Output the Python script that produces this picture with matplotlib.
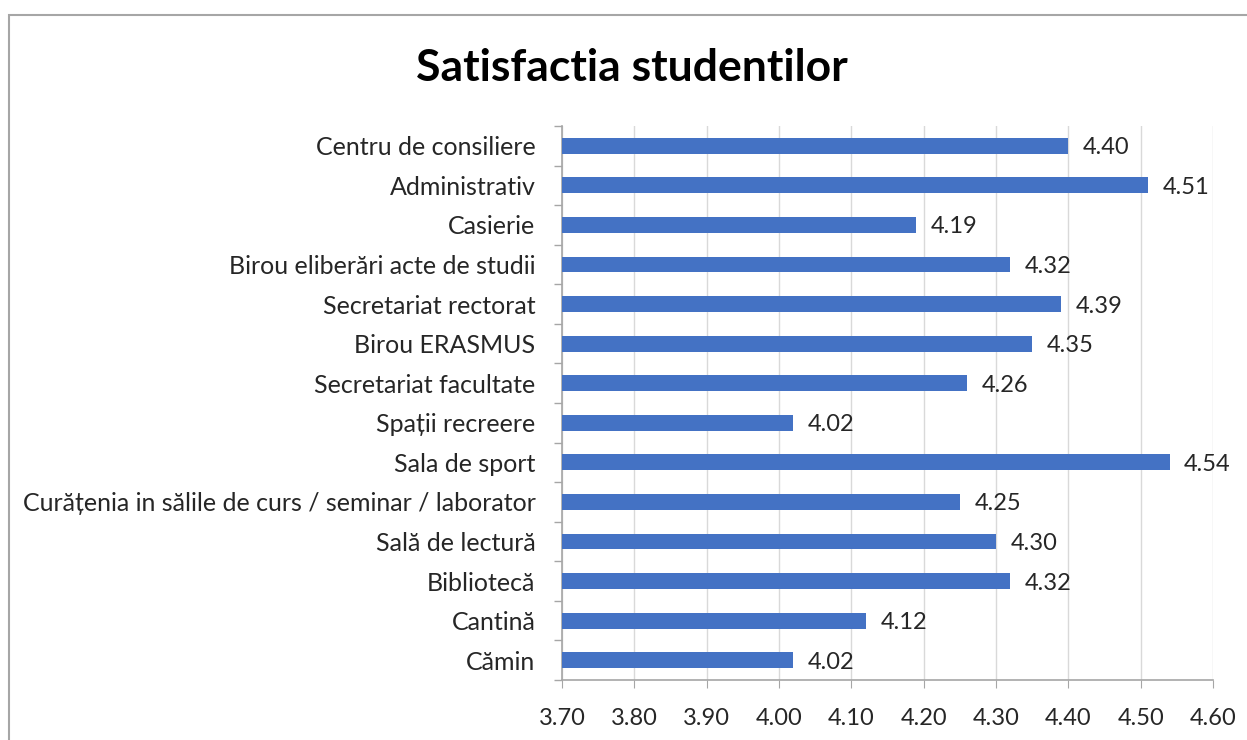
import matplotlib.pyplot as plt
from matplotlib.patches import Rectangle
from matplotlib.ticker import FixedLocator

categories = ["Centru de consiliere", "Administrativ", "Casierie",
              "Birou eliberări acte de studii", "Secretariat rectorat",
              "Birou ERASMUS", "Secretariat facultate", "Spații recreere",
              "Sala de sport", "Curățenia in sălile de curs / seminar / laborator",
              "Sală de lectură", "Bibliotecă", "Cantină", "Cămin"]
values = [4.40, 4.51, 4.19, 4.32, 4.39, 4.35, 4.26, 4.02, 4.54, 4.25, 4.30, 4.32, 4.12, 4.02]
xticks = [3.70, 3.80, 3.90, 4.00, 4.10, 4.20, 4.30, 4.40, 4.50, 4.60]

plt.rcParams['font.family'] = ['Lato', 'DejaVu Sans']

fig = plt.figure(figsize=(12.47, 7.40), dpi=100)
ax = fig.add_axes([562 / 1247, 60 / 740, 651 / 1247, 554 / 740])

# outer chart frame (partly cut off at right/bottom like the screenshot)
fig.patches.append(Rectangle((9 / 1247, -0.1), 1.2, 1.1 - 15 / 740,
                             transform=fig.transFigure, fill=False,
                             edgecolor='#a6a6a6', linewidth=1.5))

y = list(range(len(categories)))[::-1]
ax.barh(y, [v - xticks[0] for v in values], left=xticks[0], height=0.4,
        color='#4472C4', zorder=3)
for yi, v in zip(y, values):
    ax.text(v + 0.02, yi - 0.05, f"{v:.2f}", va='center', ha='left', fontsize=17, color='#262626')

ax.set_xlim(3.70, 4.60)
ax.set_ylim(-0.5, len(categories) - 0.5)
ax.set_xticks(xticks)
ax.set_xticklabels([f"{t:.2f}" for t in xticks], fontsize=17, color='#262626')
ax.set_yticks(y)
ax.set_yticklabels(categories, fontsize=18, color='#262626')
ax.yaxis.set_minor_locator(FixedLocator([i - 0.5 for i in range(len(categories) + 1)]))
ax.tick_params(axis='y', which='major', length=0, pad=19)
ax.tick_params(axis='y', which='minor', length=6, color='#a6a6a6', width=1)
ax.tick_params(axis='x', length=6, color='#a6a6a6', pad=14)

ax.grid(axis='x', color='#d9d9d9', linewidth=1, zorder=0)
for s in ['top', 'right']:
    ax.spines[s].set_visible(False)
for s in ['left', 'bottom']:
    ax.spines[s].set_color('#a6a6a6')
    ax.spines[s].set_linewidth(1.2)

fig.text(632 / 1247, 1 - 68 / 740, "Satisfactia studentilor", ha='center', va='center',
         fontsize=32, fontweight='bold', color='black')

fig.savefig('out.png', dpi=100)
